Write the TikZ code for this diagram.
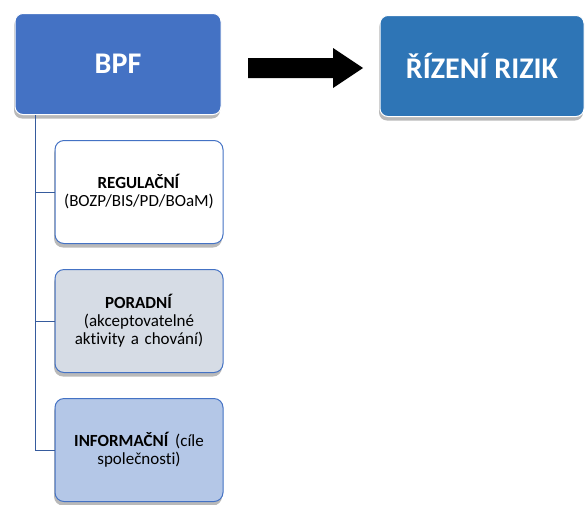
\documentclass[tikz,border=0pt]{standalone}
\usepackage{fontspec}
\setmainfont{Carlito}[Ligatures=NoCommon]
\usetikzlibrary{shadows}
\definecolor{bpfblue}{HTML}{4472C4}
\definecolor{riskblue}{HTML}{2E75B6}
\definecolor{poradfill}{HTML}{D6DCE5}
\definecolor{inffill}{HTML}{B4C7E7}
\tikzset{
  mainbox/.style={draw=white, line width=1pt, rounded corners=8pt, text=white,
    font=\fontsize{30}{33}\selectfont\bfseries, minimum height=101pt,
    drop shadow={shadow xshift=-1pt, shadow yshift=-4pt, opacity=0.55}},
  subbox/.style={draw=bpfblue, line width=1pt, rounded corners=9pt,
    minimum width=168pt, minimum height=103pt, align=center, text width=155pt,
    font=\fontsize{17}{18}\selectfont,
    drop shadow={shadow xshift=-1pt, shadow yshift=-4pt, opacity=0.55}},
  branch/.style={draw=bpfblue!80!black, line width=1pt}
}
\begin{document}
\begin{tikzpicture}[x=1pt,y=1pt]
  \useasboundingbox (0,0) rectangle (585,-504);
  \node[mainbox, fill=bpfblue, minimum width=206pt] (bpf) at (118,-64) {BPF};
  \node[mainbox, fill=riskblue, minimum width=204pt] (risk) at (482,-66) {ŘÍZENÍ RIZIK};
  % block arrow
  \fill[black] (248,-58) -- (333,-58) -- (333,-48) -- (363,-68)
    -- (333,-88) -- (333,-78) -- (248,-78) -- cycle;
  \node[subbox, fill=white] (reg) at (139,-192) {\textbf{REGULAČNÍ}\\(BOZP/BIS/PD/BOaM)};
  \node[subbox, fill=poradfill] (por) at (139,-321) {\textbf{PORADNÍ}\\(akceptovatelné\\aktivity a chování)};
  \node[subbox, fill=inffill] (inf) at (139,-450) {\textbf{INFORMAČNÍ}~(cíle\\společnosti)};
  \coordinate (trunk) at (35,-115);
  \draw[branch] (trunk) |- (inf.west);
  \draw[branch] (trunk |- reg.west) -- (reg.west);
  \draw[branch] (trunk |- por.west) -- (por.west);
\end{tikzpicture}
\end{document}
